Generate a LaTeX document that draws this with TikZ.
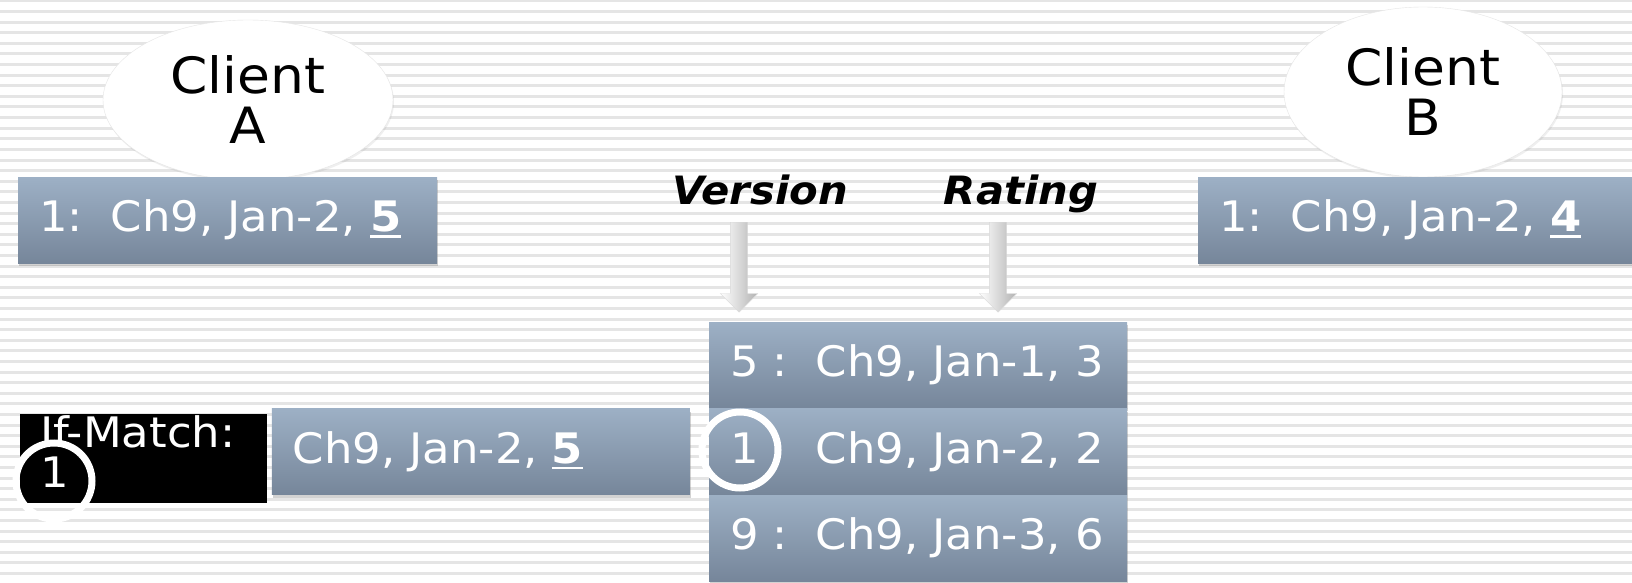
\documentclass[tikz,border=0pt]{standalone}
\usepackage{fontspec}
\setmainfont{DejaVu Sans}[FakeStretch=1.07]
\usepackage{tikz}
\usetikzlibrary{positioning, shapes.geometric, shapes.arrows, shadows}
\definecolor{slate-top}{HTML}{9DB0C5}
\definecolor{slate-bot}{HTML}{76869A}
\definecolor{stripe-gray}{HTML}{E5E5E5}
\newcommand{\ulnum}[1]{\textbf{\setbox0\hbox{#1}\rlap{\rule[-6pt]{\wd0}{2.5pt}}\box0}}

\begin{document}
\frenchspacing
\begin{tikzpicture}[x=1pt, y=-1pt,
    stripe/.style={draw=stripe-gray, line width=3pt},
    client/.style={ellipse, fill=white, draw=black!10, inner sep=0pt, align=center, font=\fontsize{50}{50}\selectfont,
        drop shadow={shadow xshift=1pt, shadow yshift=-2pt, opacity=.12}},
    box/.style={top color=slate-top, bottom color=slate-bot, text=white, minimum height=86pt, inner xsep=21pt, inner ysep=0pt,
        align=left, font=\fontsize{42}{40}\selectfont, drop shadow={shadow xshift=1pt, shadow yshift=-3pt, opacity=.35}},
    header/.style={font=\fontsize{39}{40}\selectfont\bfseries\itshape, text depth=0pt},
    blockarrow/.style={single arrow, rotate=-90, left color=white, right color=black!30, draw=black!15,
        minimum height=90pt, inner sep=8.5pt, single arrow head extend=10pt},
    ring/.style={circle, draw=white, line width=7pt, minimum size=76pt, inner sep=0pt}
]
    \useasboundingbox[fill=white] (0,0) rectangle (1632,583);
    \foreach \i in {0,...,55}
        \draw [stripe] (0,{1+10.6*\i}) -- (1632,{1+10.6*\i});

    % the two clients
    \node (clientA) [client, minimum width=290pt, minimum height=160pt] at (248,100) {Client\\A};
    \node (clientB) [client, minimum width=278pt, minimum height=170pt] at (1423,92) {Client\\B};
    \node (rowA) [box, text width=377pt, anchor=north west] at (18,177) {1:\ \ Ch9, Jan-2, \ulnum{5}};
    \node (rowB) [box, text width=400pt, anchor=north west] at (1198,177) {1:\ \ Ch9, Jan-2, \ulnum{4}};

    % server side
    \node (ver) [header] at (760,190) {Version};
    \node (rat) [header] at (1021,190) {Rating};
    \node (verArrow) [blockarrow, anchor=west] at (739,222) {};
    \node (ratArrow) [blockarrow, anchor=west] at (998,222) {};

    \node (r1) [box, text width=376pt, anchor=north west] at (709,322) {5 :\ \ Ch9, Jan-1, 3};
    \node (r2) [box, text width=376pt, below=0pt of r1] {1\phantom{\ :}\ \ Ch9, Jan-2, 2};
    \node (r3) [box, text width=376pt, below=0pt of r2] {9 :\ \ Ch9, Jan-3, 6};

    % the request
    \node (ask) [box, text width=376pt, left=19pt of r2] {Ch9, Jan-2, \ulnum{5}};
    \node (ifMatch) [fill=black, text=white, anchor=north west, minimum height=89pt, text width=207pt, inner xsep=20pt,
        inner ysep=0pt, text depth=54pt, align=left, font=\fontsize{42}{40}\selectfont] at (20,414) {If-Match:\\1};

    \node (ringL) [ring] at (54,481) {};
    \node (ringR) [ring] at (740,450) {};
\end{tikzpicture}
\end{document}
